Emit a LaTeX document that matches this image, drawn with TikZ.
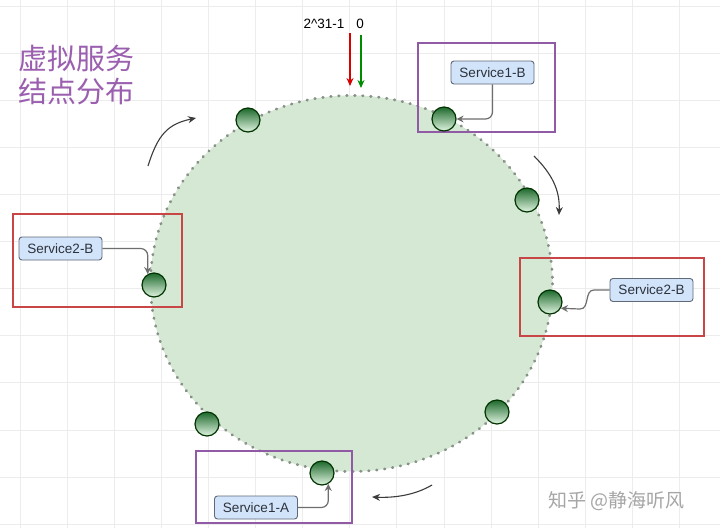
\documentclass[tikz,border=0pt]{standalone}
\usepackage{fontspec}
\setmainfont{Liberation Sans}
\newfontfamily\cjk{Noto Sans CJK SC}
\usetikzlibrary{arrows.meta}
\definecolor{ringfill}{RGB}{213,232,212}
\definecolor{ringdot}{RGB}{135,145,135}
\definecolor{gridc}{RGB}{236,236,236}
\definecolor{purplebox}{RGB}{145,90,165}
\definecolor{redbox}{RGB}{200,70,70}
\definecolor{labfill}{RGB}{210,228,250}
\definecolor{labdraw}{RGB}{95,105,120}
\definecolor{labtext}{RGB}{45,50,60}
\definecolor{titlec}{RGB}{155,95,175}
\definecolor{balltop}{RGB}{30,105,45}
\definecolor{ballbot}{RGB}{225,245,225}
\definecolor{conn}{RGB}{110,110,110}
\definecolor{bigarrow}{RGB}{60,60,60}
\tikzset{
  ball/.style={circle,draw=black!80!green,line width=1.2pt,minimum size=24pt,inner sep=0pt,top color=balltop,bottom color=ballbot},
  svc/.style={rectangle,rounded corners=3pt,draw=labdraw,line width=0.9pt,fill=labfill,text=labtext,minimum width=83pt,minimum height=23pt,inner sep=0pt,font=\fontsize{13.5}{16}\selectfont},
  pbox/.style={draw=purplebox,line width=1.6pt},
  rbox/.style={draw=redbox,line width=1.6pt},
  link/.style={draw=conn,line width=1.2pt,rounded corners=7pt,-{Stealth[length=7pt,width=7pt]}},
  turn/.style={draw=bigarrow,line width=1.1pt,-{Stealth[length=8pt,width=7pt]}}
}
\begin{document}
\begin{tikzpicture}[x=1pt,y=-1pt]
\useasboundingbox (0,0) rectangle (720,528);
\fill[white] (0,0) rectangle (720,528);
% grid
\foreach \i in {0,...,15} {
  \draw[gridc,line width=0.8pt] ({20+47.1*\i},0) -- ({20+47.1*\i},528);
}
\foreach \j in {0,...,11} {
  \draw[gridc,line width=0.8pt] (0,{6+47.1*\j}) -- (720,{6+47.1*\j});
}
% ring
\fill[ringfill] (351.5,283.5) ellipse [x radius=201, y radius=188];
\draw[ringdot,line width=2.8pt,line cap=round,dash pattern=on 0.6pt off 7.4pt] (351.5,283.5) ellipse [x radius=201, y radius=188];
% title
\node[font=\cjk\fontsize{29}{33}\selectfont,text=titlec,align=left,anchor=north west,inner sep=0pt] (title) at (18,45) {虚拟服务\\结点分布};
% top markers
\node[font=\fontsize{13.5}{16}\selectfont,inner sep=0pt] (lmax) at (324,24) {2\^{}31-1};
\node[font=\fontsize{13.5}{16}\selectfont,inner sep=0pt] (lzero) at (360,24) {0};
\coordinate (rs) at (350,33); \coordinate (re) at (350,86);
\coordinate (gs) at (361,35); \coordinate (ge) at (361,88);
\draw[red!85!black,line width=1.3pt,-{Stealth[length=8pt,width=7pt]}] (rs) -- (re);
\draw[green!55!black,line width=1.3pt,-{Stealth[length=8pt,width=7pt]}] (gs) -- (ge);
% boxes
\draw[pbox] (418,43) rectangle (555,132);
\draw[rbox] (13,214) rectangle (182,307);
\draw[rbox] (520,258) rectangle (704,336);
\draw[pbox] (196,451) rectangle (352,523);
% balls
\node[ball] (b1) at (248,120) {};
\node[ball] (b2) at (444,119) {};
\node[ball] (b3) at (527,200) {};
\node[ball] (b4) at (550,302) {};
\node[ball] (b5) at (497,412) {};
\node[ball] (b6) at (154,285) {};
\node[ball] (b7) at (207,424) {};
\node[ball] (b8) at (322,473) {};
% service labels
\node[svc] (s1b) at (492.5,72.5) {Service1-B};
\node[svc] (s2bl) at (60.5,248.5) {Service2-B};
\node[svc] (s2br) at (651.5,290) {Service2-B};
\node[svc] (s1a) at (256,507.5) {Service1-A};
% connectors
\draw[link] (s1b.south) |- (b2.east);
\draw[link] (s2bl.east) -| (b6.120);
\draw[link] (s1a.east) -| (b8.-60);
\coordinate (c2a) at (594,290);
\coordinate (c2b) at (580,309);
\draw[draw=conn,line width=1.2pt,-{Stealth[length=7pt,width=7pt]}] (s2br.west) -- (c2a) .. controls (584,290) and (590,309) .. (c2b) -- (b4.-30);
% rotation arrows
\coordinate (a1s) at (148,166); \coordinate (a1e) at (196,118);
\coordinate (a2s) at (534,156); \coordinate (a2e) at (559,215);
\coordinate (a3s) at (432,485); \coordinate (a3e) at (372,497);
\draw[turn] (a1s) .. controls (158,134) and (168,124) .. (a1e);
\draw[turn] (a2s) .. controls (552,174) and (560,190) .. (a2e);
\draw[turn] (a3s) .. controls (415,495) and (395,498) .. (a3e);
% watermark
\node[font=\cjk\fontsize{19}{22}\selectfont,text=black!35,anchor=west,inner sep=0pt] (wm) at (548,501) {知乎 @静海听风};
\end{tikzpicture}
\end{document}
